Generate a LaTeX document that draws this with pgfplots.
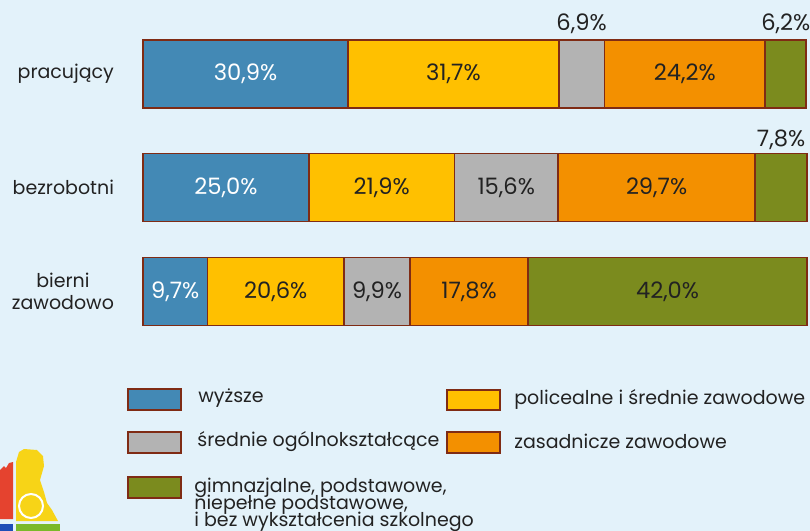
\documentclass[border=0pt]{standalone}
\usepackage{pgfplots}
\pgfplotsset{compat=1.18}
\usepackage{pgfplotstable}
\usepackage{fontspec}
\setmainfont{Poppins}
\definecolor{bg}{HTML}{E3F2FA}
\definecolor{cblue}{HTML}{4389B5}
\definecolor{cyellow}{HTML}{FFC000}
\definecolor{cgray}{HTML}{B3B3B3}
\definecolor{corange}{HTML}{F39000}
\definecolor{colive}{HTML}{7B8B1E}
\definecolor{brd}{HTML}{7F2B14}
\definecolor{txt}{HTML}{222222}
\definecolor{lred}{HTML}{E5432F}
\definecolor{lyellow}{HTML}{F7D417}
\definecolor{lblue}{HTML}{1E4DB7}
\definecolor{lgreen}{HTML}{7AB929}
\newcommand\valfont{\fontsize{11.3}{13}\selectfont}
\newcommand\labfont{\fontsize{9.5}{11.3}\selectfont}
\newcommand\legfont{\fontsize{9.5}{12}\selectfont}
\pgfplotstableread{
y v dy
74 30.9 0
187.5 25.0 0
291.5 9.7 0
}\tA
\pgfplotstableread{
y v dy
74 31.7 0
187.5 21.9 0
291.5 20.6 0
}\tB
\pgfplotstableread{
y v dy
74 6.9 25
187.5 15.6 0
291.5 9.9 0
}\tC
\pgfplotstableread{
y v dy
74 24.2 0
187.5 29.7 0
291.5 17.8 0
}\tD
\pgfplotstableread{
y v dy
74 6.2 25
187.5 7.8 24
291.5 42.0 0
}\tE
\begin{document}
\begin{tikzpicture}
\begin{scope}[x=0.5pt,y=-0.5pt]
\fill[bg] (0,0) rectangle (810,531);
\end{scope}
\begin{axis}[
  at={(71.5pt,0pt)}, anchor=north west,
  scale only axis, width=332pt, height=265.5pt,
  xmin=0, xmax=100, ymin=0, ymax=531, y dir=reverse,
  xbar stacked, bar width=34pt,
  axis line style={draw=none}, major tick style={draw=none},
  xtick=\empty, ytick={74,187.5,291.5},
  yticklabels={pracujący,bezrobotni,{bierni\\zawodowo}},
  yticklabel style={align=center, text=txt, font=\labfont, xshift=-11pt},
  clip=false,
  every axis plot/.append style={draw=brd, line width=0.9pt},
  nodes near coords={\pgfmathprintnumber[fixed,fixed zerofill,precision=1,use comma,assume math mode=true]{\rawv}\%},
  nodes near coords align=center,
  visualization depends on={\thisrow{v} \as \rawv},
  visualization depends on={\thisrow{dy} \as \rawdy},
  every node near coord/.append style={anchor=center, yshift=\rawdy pt, text=txt, font=\valfont},
]
\addplot[fill=cblue, nodes near coords style={text=white}] table[x=v,y=y] {\tA};
\addplot[fill=cyellow] table[x=v,y=y] {\tB};
\addplot[fill=cgray] table[x=v,y=y] {\tC};
\addplot[fill=corange] table[x=v,y=y] {\tD};
\addplot[fill=colive] table[x=v,y=y] {\tE};
\end{axis}
\begin{scope}[x=0.5pt,y=-0.5pt]
% legend
\begin{scope}[every node/.style={inner sep=0pt, anchor=west, text=txt, font=\legfont}]
\draw[brd, line width=0.9pt, fill=cblue] (128,389) rectangle (181,410);
\node at (198,398) {wyższe};
\draw[brd, line width=0.9pt, fill=cgray] (128,432) rectangle (181,453);
\node at (197,442) {średnie ogólnokształcące};
\draw[brd, line width=0.9pt, fill=colive] (128,477) rectangle (181,498);
\node[anchor=north west, align=left, font={\fontsize{9.5}{8.3}\selectfont\lineskiplimit=-20pt}] at (194,478) {gimnazjalne, podstawowe,\\niepełne podstawowe,\\i bez wykształcenia szkolnego};
\draw[brd, line width=0.9pt, fill=cyellow] (447,390) rectangle (500,410);
\node at (514,399) {policealne i średnie zawodowe};
\draw[brd, line width=0.9pt, fill=corange] (447,432) rectangle (500,453);
\node at (514,441) {zasadnicze zawodowe};
\end{scope}
% logo
\fill[lred] (0,470) -- (4,466) -- (6,468) -- (9,463) -- (13,462) -- (13,519) -- (0,519) -- cycle;
\fill[lyellow] (16,462) -- (19,452) -- (24,449) -- (37,450) -- (43,456) -- (44,466) -- (40,480) -- (44,492) -- (47,503) -- (52,510) -- (58,521) -- (16,521) -- cycle;
\draw[white, line width=1pt] (31,506) circle (12);
\fill[lblue] (0,524) rectangle (13,531);
\fill[lgreen] (16,524) rectangle (60,531);
\pgfresetboundingbox
\path[use as bounding box] (0,0) rectangle (810,531);
\end{scope}
\end{tikzpicture}
\end{document}
